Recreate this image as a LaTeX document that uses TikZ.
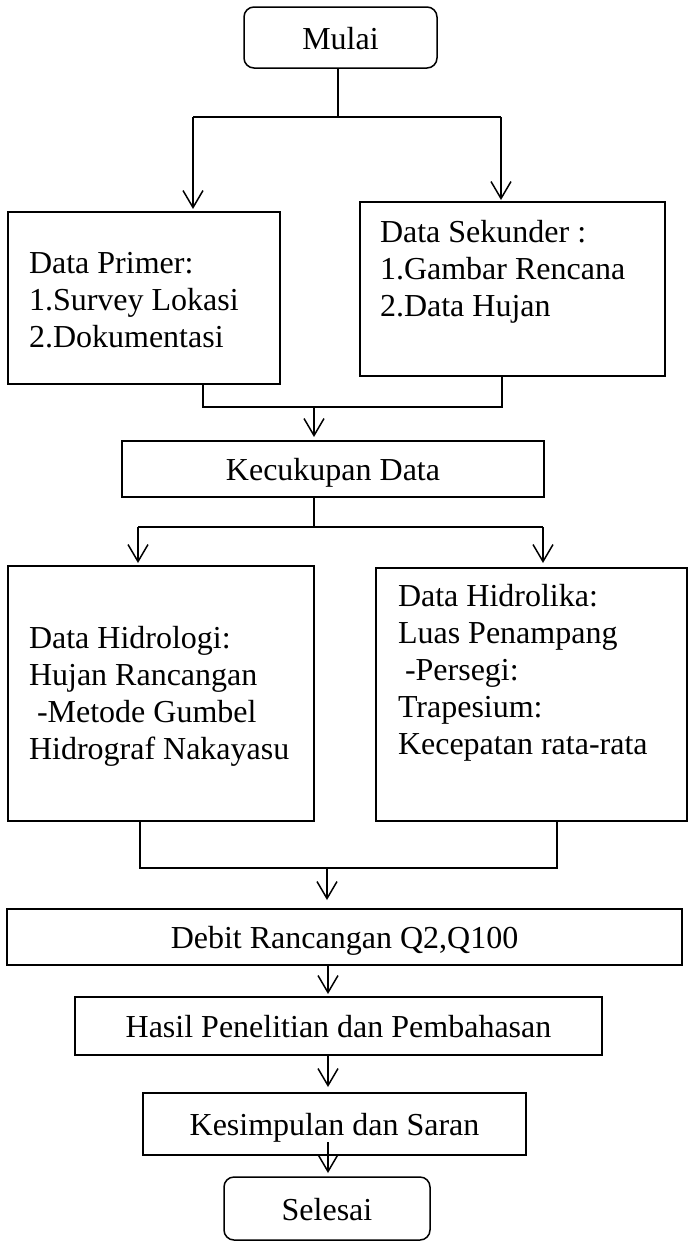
\documentclass[tikz,border=0pt]{standalone}
\usepackage{fontspec}
\setmainfont{Liberation Serif}
\usetikzlibrary{arrows.meta}
\begin{document}
\begin{tikzpicture}[x=1pt,y=-1pt,
  box/.style={draw, line width=1.5pt, rectangle, inner sep=0pt, outer sep=0pt,
    font=\fontsize{32}{37}\selectfont, text height=23pt, text depth=0pt},
  rbox/.style={box, rounded corners=10pt},
  txt/.style={inner sep=0pt, outer sep=0pt, align=left,
    font=\fontsize{32}{37}\selectfont},
  conn/.style={line width=1.5pt},
  arr/.style={conn, -{Straight Barb[length=17pt, width=20pt]}}]
\useasboundingbox (0,0) rectangle (689,1242);
% boxes
\node[rbox, minimum width=193pt, minimum height=61pt] (mulai) at (340.5,37.5) {Mulai};
\node[box, minimum width=272pt, minimum height=172pt] (primer) at (144,298) {};
\node[box, minimum width=305pt, minimum height=174pt] (sekunder) at (512.5,289) {};
\node[box, minimum width=422pt, minimum height=56pt] (kec) at (333,469) {Kecukupan Data};
\node[box, minimum width=306pt, minimum height=255pt] (hidrologi) at (161,693.5) {};
\node[box, minimum width=311pt, minimum height=253pt] (hidrolika) at (531.5,694.5) {};
\node[box, minimum width=675pt, minimum height=56pt] (debit) at (344.5,937) {Debit Rancangan Q2,Q100};
\node[box, minimum width=527pt, minimum height=58pt] (hasil) at (338.5,1026) {Hasil Penelitian dan Pembahasan};
\node[box, minimum width=383pt, minimum height=62pt] (kes) at (334.5,1124) {Kesimpulan dan Saran};
\node[rbox, minimum width=206pt, minimum height=63pt] (selesai) at (327,1208.5) {Selesai};
% box texts (anchored at the baseline of their last line)
\node[txt, anchor=base west] (primertext) at (29,347) {Data Primer:\\1.Survey Lokasi\\2.Dokumentasi};
\node[txt, anchor=base west] (sekundertext) at (380,316) {Data Sekunder :\\1.Gambar Rencana\\2.Data Hujan};
\node[txt, anchor=base west] (hidrologitext) at (29,759) {Data Hidrologi:\\Hujan Rancangan\\\hspace*{8pt}-Metode Gumbel\\Hidrograf Nakayasu};
\node[txt, anchor=base west] (hidrolikatext) at (398,754) {Data Hidrolika:\\Luas Penampang\\\hspace*{7pt}-Persegi:\\Trapesium:\\Kecepatan rata-rata};
% connector points
\coordinate (j1) at (338,117);
\coordinate (j1l) at (193,117);
\coordinate (j1r) at (501,117);
\coordinate (c1l) at (203,407);
\coordinate (c1m) at (314,407);
\coordinate (c1r) at (502,407);
\coordinate (c2l) at (138,527);
\coordinate (c2m) at (314,527);
\coordinate (c2r) at (543,527);
\coordinate (c3l) at (140,868);
\coordinate (c3m) at (327,868);
\coordinate (c3r) at (557,868);
\coordinate (ax) at (328,0);
\coordinate (k1) at (328,1142);
% connectors
\draw[conn] (mulai.south -| j1) -- (j1);
\draw[conn] (j1l) -- (j1r);
\draw[arr, shorten >=3pt] (j1l) -- (primer.north -| j1l);
\draw[arr, shorten >=2pt] (j1r) -- (sekunder.north -| j1r);
\draw[conn] (primer.south -| c1l) -- (c1l) -- (c1r) -- (sekunder.south -| c1r);
\draw[arr, shorten >=4pt] (c1m) -- (kec.north -| c1m);
\draw[conn] (kec.south -| c2m) -- (c2m);
\draw[conn] (c2l) -- (c2r);
\draw[arr, shorten >=3pt] (c2l) -- (hidrologi.north -| c2l);
\draw[arr, shorten >=5pt] (c2r) -- (hidrolika.north -| c2r);
\draw[conn] (hidrologi.south -| c3l) -- (c3l) -- (c3r) -- (hidrolika.south -| c3r);
\draw[arr, shorten >=9pt] (c3m) -- (debit.north -| c3m);
\draw[arr, shorten >=3pt] (debit.south -| ax) -- (hasil.north -| ax);
\draw[arr, shorten >=6pt] (hasil.south -| ax) -- (kes.north -| ax);
\draw[arr, shorten >=4pt] (k1) -- (selesai.north -| ax);
\end{tikzpicture}
\end{document}
